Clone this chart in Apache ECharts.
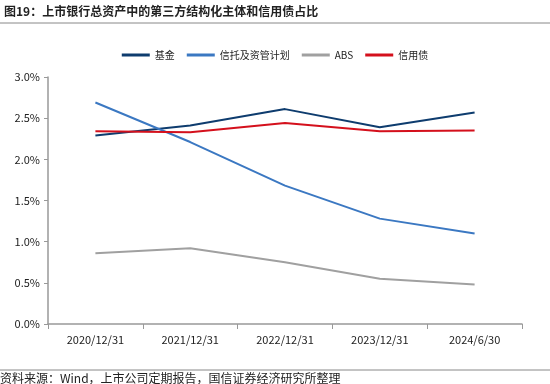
<!DOCTYPE html>
<html><head><meta charset="utf-8">
<script src="https://cdn.jsdelivr.net/npm/echarts@6/dist/echarts.min.js"></script>
<style>html,body{margin:0;padding:0;background:#fff;}#c{width:550px;height:384px;}</style>
</head><body><div id="c"></div>
<script>
const categories = ['2020/12/31','2021/12/31','2022/12/31','2023/12/31','2024/6/30'];
const fund = [2.29, 2.41, 2.61, 2.39, 2.57];
const trust = [2.69, 2.21, 1.68, 1.28, 1.10];
const abs = [0.86, 0.92, 0.75, 0.55, 0.48];
const credit = [2.34, 2.33, 2.44, 2.34, 2.35];
const yTicks = [0, 0.5, 1.0, 1.5, 2.0, 2.5, 3.0];

const chart = echarts.init(document.getElementById('c'), null, {renderer:'canvas'});
const font = '"Noto Sans CJK SC", sans-serif';
function s(name, data, color){
  return {name, type:'line', data, symbol:'none', lineStyle:{color, width:2}, itemStyle:{color}};
}
chart.setOption({
  animation:false,
  textStyle:{fontFamily:font},
  graphic:[
    {type:'text', left:4, top:5, style:{text:'图19：上市银行总资产中的第三方结构化主体和信用债占比', font:'bold 12px "Noto Sans CJK SC"', fill:'#222'}},
    {type:'line', shape:{x1:0,y1:23,x2:550,y2:23}, style:{stroke:'#888', lineWidth:1}},
    {type:'line', shape:{x1:0,y1:370,x2:550,y2:370}, style:{stroke:'#888', lineWidth:1}},
    {type:'text', left:0, top:372, style:{text:'资料来源：Wind，上市公司定期报告，国信证券经济研究所整理', font:'12px "Noto Sans CJK SC"', fill:'#222'}}
  ],
  legend:{top:45, left:'center', itemWidth:28, itemHeight:3, itemGap:12, icon:'rect',
    textStyle:{fontSize:10, color:'#222'},
    data:['基金','信托及资管计划','ABS','信用债']},
  grid:{left:48, right:28, top:77, bottom:60},
  xAxis:{type:'category', data:categories, boundaryGap:true,
    axisLine:{lineStyle:{color:'#999', width:1.5}},
    axisTick:{show:true, alignWithLabel:false, lineStyle:{color:'#999'}},
    axisLabel:{color:'#222', fontSize:11, margin:10}},
  yAxis:{type:'value', min:0, max:3, interval:0.5,
    axisLine:{show:true, lineStyle:{color:'#999', width:1.5}},
    axisTick:{show:true, inside:false, length:4, lineStyle:{color:'#999'}},
    splitLine:{show:false},
    axisLabel:{color:'#222', fontSize:11, margin:8, formatter:v=>v.toFixed(1)+'%'}},
  series:[s('基金', fund, '#0e3c6e'), s('信托及资管计划', trust, '#3b78c2'), s('ABS', abs, '#a0a0a0'), s('信用债', credit, '#d4101c')]
});
</script></body></html>
